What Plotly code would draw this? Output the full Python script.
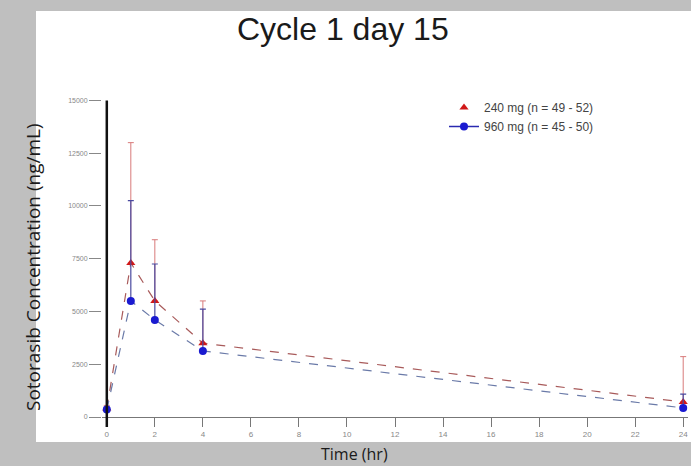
import plotly.graph_objects as go

# Sampling times (hr)
time_hr = [0, 1, 2, 4, 24]

# Mean sotorasib concentration (ng/mL) and upper SD
conc_240 = [400, 7300, 5500, 3500, 710]
sd_240 = [150, 5700, 2900, 2000, 2150]
conc_960 = [350, 5500, 4600, 3130, 430]
sd_960 = [120, 4750, 2650, 1980, 650]

label_240 = "240 mg (n = 49 - 52)"
label_960 = "960 mg (n = 45 - 50)"

x_ticks = list(range(0, 25, 2))
y_ticks = [0, 2500, 5000, 7500, 10000, 12500, 15000]
y_tick_text = ["0", "2500", "5000", "7500", "10000", "12500", "15000"]

X_RANGE = [-0.2, 24.2]
Y_RANGE = [0, 15400]

W, H = 691, 466
M_L, M_R, M_T, M_B = 102, 3, 92, 49
plot_w = W - M_L - M_R
plot_h = H - M_T - M_B


def px_to_paper_x(px):
    return (px - M_L) / plot_w


def px_to_paper_y(py):
    return (H - M_B - py) / plot_h


RED_LINE, RED_MARK, RED_ERR = "#a85a5a", "#d01818", "#d87a7a"
BLUE_LINE, BLUE_MARK, BLUE_ERR = "#6a7aa8", "#1a1ad0", "#4a4aa0"

fig = go.Figure()

fig.add_trace(go.Scatter(
    x=time_hr, y=conc_240, name=label_240, showlegend=False,
    mode="lines+markers",
    line=dict(color=RED_LINE, width=1.2, dash="dash"),
    marker=dict(symbol="triangle-up", size=8, color=RED_MARK),
    error_y=dict(type="data", array=sd_240, arrayminus=[0] * len(sd_240),
                 symmetric=False, color=RED_ERR, thickness=1, width=3),
    cliponaxis=False,
))

fig.add_trace(go.Scatter(
    x=time_hr, y=conc_960, name=label_960, showlegend=False,
    mode="lines+markers",
    line=dict(color=BLUE_LINE, width=1.2, dash="dash"),
    marker=dict(symbol="circle", size=8, color=BLUE_MARK),
    error_y=dict(type="data", array=sd_960, arrayminus=[0] * len(sd_960),
                 symmetric=False, color=BLUE_ERR, thickness=1.2, width=3),
    cliponaxis=False,
))

# legend entries: triangle marker only for 240 mg, line + circle for 960 mg
fig.add_trace(go.Scatter(
    x=[None], y=[None], name=label_240, mode="markers",
    marker=dict(symbol="triangle-up", size=8, color=RED_MARK),
))
fig.add_trace(go.Scatter(
    x=[None], y=[None], name=label_960, mode="lines+markers",
    line=dict(color="#2a2ab0", width=1.5),
    marker=dict(symbol="circle", size=8, color=BLUE_MARK),
))

x0_paper = (0 - X_RANGE[0]) / (X_RANGE[1] - X_RANGE[0])
y15k_paper = (15000 - Y_RANGE[0]) / (Y_RANGE[1] - Y_RANGE[0])

shapes = [
    # white chart panel
    dict(type="rect", xref="paper", yref="paper",
         x0=px_to_paper_x(36), x1=px_to_paper_x(692),
         y0=px_to_paper_y(442), y1=px_to_paper_y(11),
         fillcolor="white", line=dict(width=0), layer="below"),
    # vertical axis line at t = 0
    dict(type="line", xref="paper", yref="paper",
         x0=x0_paper, x1=x0_paper, y0=px_to_paper_y(427), y1=y15k_paper,
         line=dict(color="#111111", width=2.5), layer="above"),
]

fig.update_layout(
    width=W, height=H,
    margin=dict(l=M_L, r=M_R, t=M_T, b=M_B, pad=0),
    paper_bgcolor="#bfbfbf",
    plot_bgcolor="white",
    font=dict(family="Liberation Sans, Arial, sans-serif", color="#333333"),
    showlegend=True,
    legend=dict(x=px_to_paper_x(444), y=px_to_paper_y(93), xanchor="left",
                yanchor="top", bgcolor="rgba(0,0,0,0)",
                font=dict(size=12, color="#444444"),
                tracegroupgap=0, itemwidth=30),
    shapes=shapes,
    xaxis=dict(range=X_RANGE, tickmode="array", tickvals=x_ticks,
               showgrid=False, zeroline=False,
               showline=True, linecolor="#777777", linewidth=1,
               ticks="outside", ticklen=9, tickcolor="#777777",
               tickfont=dict(size=8, color="#888888")),
    yaxis=dict(range=Y_RANGE, tickmode="array", tickvals=y_ticks,
               ticktext=y_tick_text,
               showgrid=False, zeroline=False, showline=False,
               ticks="outside", ticklen=12, tickcolor="#888888",
               tickfont=dict(size=7, color="#888888")),
    annotations=[
        dict(text="Cycle 1 day 15", xref="paper", yref="paper",
             x=px_to_paper_x(343), y=px_to_paper_y(29),
             showarrow=False, xanchor="center", yanchor="middle",
             font=dict(size=32, color="#1a1a1a",
                       family="Liberation Sans, Arial, sans-serif")),
        dict(text="Time (hr)", xref="paper", yref="paper",
             x=px_to_paper_x(354), y=px_to_paper_y(454),
             showarrow=False, xanchor="center", yanchor="middle",
             font=dict(size=16, color="#1a1a1a",
                       family="Open Sans, sans-serif")),
        dict(text="Sotorasib Concentration (ng/mL)", xref="paper", yref="paper",
             x=px_to_paper_x(33), y=px_to_paper_y(267), textangle=-90,
             showarrow=False, xanchor="center", yanchor="middle",
             font=dict(size=19, color="#1a1a1a",
                       family="Open Sans, sans-serif")),
    ],
)

fig.write_html("out.html")
